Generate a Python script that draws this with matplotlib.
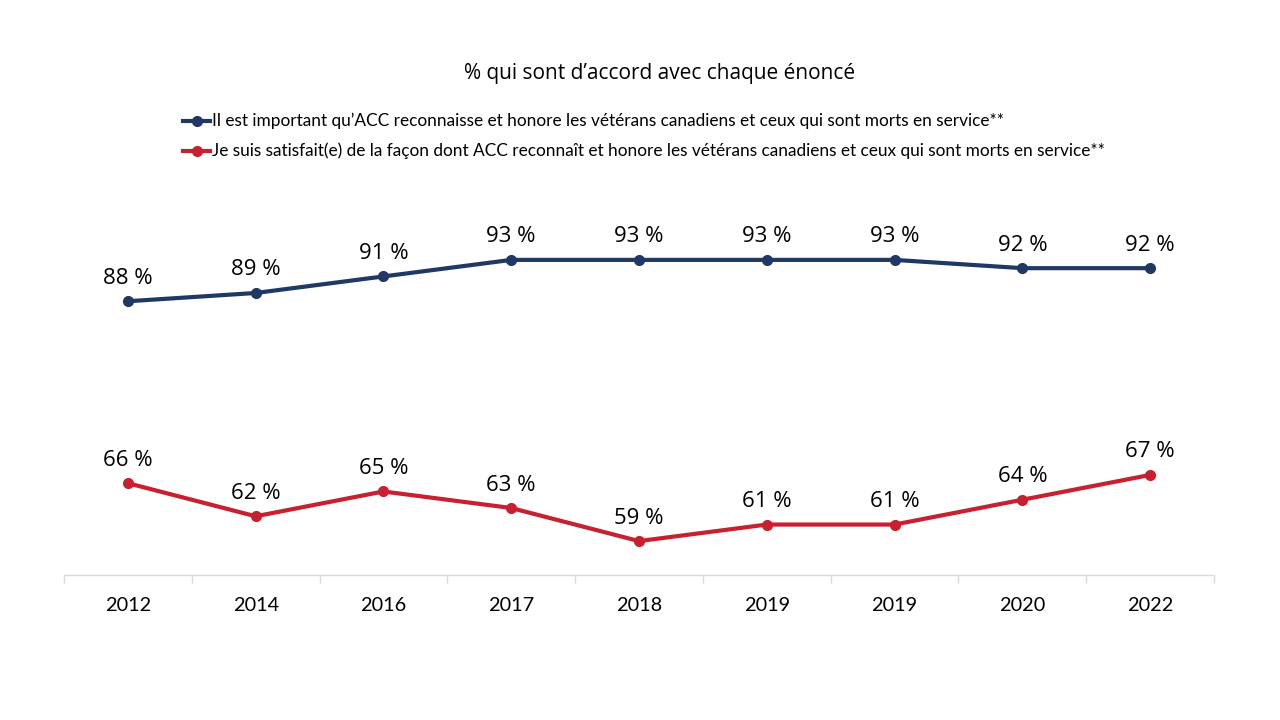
import matplotlib
matplotlib.use("Agg")
import matplotlib.pyplot as plt
from matplotlib.lines import Line2D

years = ["2012", "2014", "2016", "2017", "2018", "2019", "2019", "2020", "2022"]
important = [88, 89, 91, 93, 93, 93, 93, 92, 92]
satisfied = [66, 62, 65, 63, 59, 61, 61, 64, 67]
labels = [
    "Il est important qu\u2019ACC reconnaisse et honore les vétérans canadiens et ceux qui sont morts en service**",
    "Je suis satisfait(e) de la façon dont ACC reconnaît et honore les vétérans canadiens et ceux qui sont morts en service**",
]
title = "% qui sont d\u2019accord avec chaque énoncé"

BLUE, RED, AXIS = "#203864", "#c9202f", "#d9d9d9"
LABEL_FONT = "Open Sans"
TICK_FONT = "Lato"

fig = plt.figure(figsize=(12.8, 7.2), dpi=100)
ax = fig.add_axes([64 / 1280, 1 - 575 / 720, 1150 / 1280, (575 - 202) / 720])

x = list(range(len(years)))
for vals, color in [(important, BLUE), (satisfied, RED)]:
    ax.plot(x, vals, color=color, lw=3, marker="o", ms=7, zorder=3)
    for xi, v in zip(x, vals):
        ax.annotate(f"{v} %", (xi, v), xytext=(0, 9), textcoords="offset points",
                    ha="center", va="bottom", fontsize=16, family=LABEL_FONT, color="#000000")

ax.set_xlim(-0.5, len(years) - 0.5)
ax.set_ylim(54.9, 100)
ax.set_yticks([])
for s in ["top", "right", "left"]:
    ax.spines[s].set_visible(False)
ax.spines["bottom"].set_color(AXIS)
ax.spines["bottom"].set_linewidth(1)

# category boundary tick marks
ax.set_xticks([i - 0.5 for i in range(len(years) + 1)], minor=False)
ax.set_xticklabels([])
ax.tick_params(axis="x", which="major", length=6, color=AXIS, width=1, direction="out")
ax.set_xticks(x, minor=True)
ax.set_xticklabels(years, minor=True, fontsize=14.3, family=TICK_FONT, color="#000000")
ax.tick_params(axis="x", which="minor", length=0, pad=16)

fig.text(660 / 1280, 1 - 73 / 720, title, ha="center", va="center",
         fontsize=15, family=LABEL_FONT, color="#000000")

for i, (lab, color) in enumerate(zip(labels, [BLUE, RED])):
    yy = 1 - (121 + 30 * i) / 720
    fig.add_artist(Line2D([183 / 1280, 210 / 1280], [yy, yy], color=color, lw=3,
                          transform=fig.transFigure))
    fig.add_artist(Line2D([196.5 / 1280], [yy], color=color, marker="o", ms=7,
                          transform=fig.transFigure))
    fig.text(212 / 1280, yy, lab, ha="left", va="center", fontsize=12.4,
             family=TICK_FONT, color="#000000")

fig.savefig("out.png", dpi=100)
